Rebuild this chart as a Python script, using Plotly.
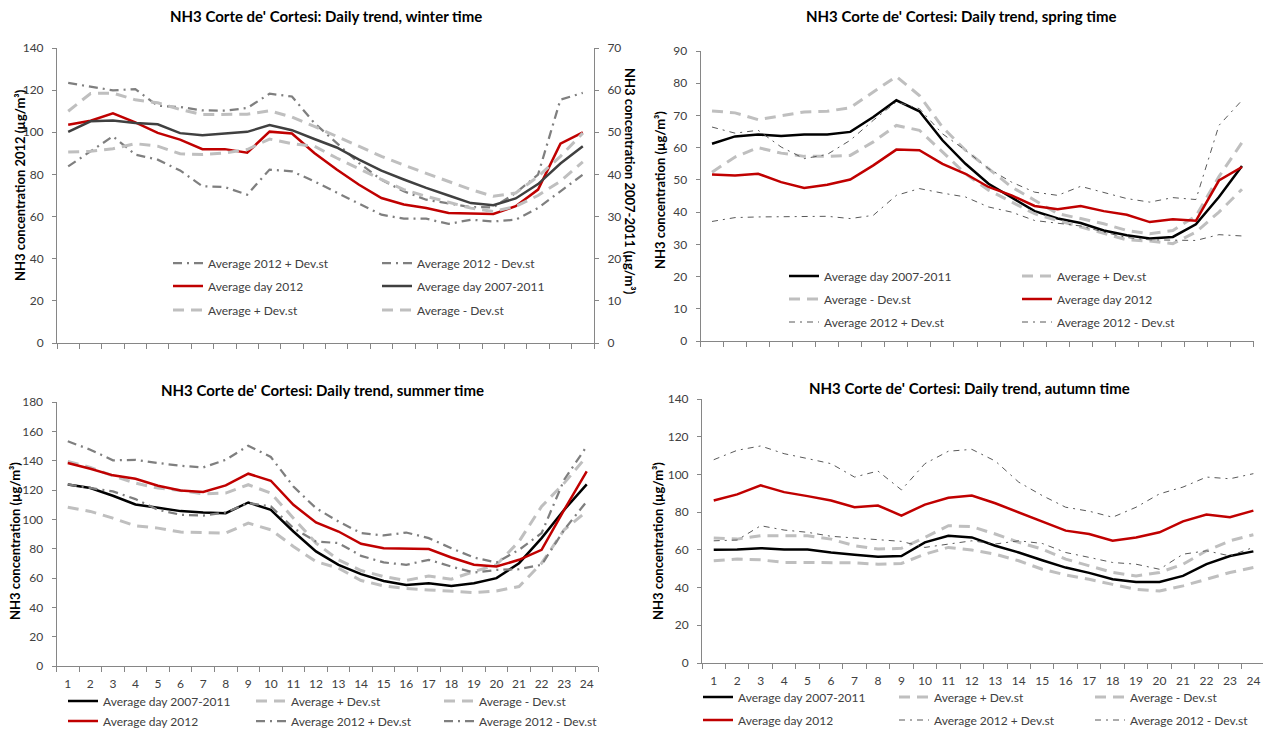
import plotly.graph_objects as go

PAGE_W, PAGE_H = 1263, 733

HOURS = list(range(1, 25))

SERIES_NAMES = {
    "avg_0711": "Average day 2007-2011",
    "plus_0711": "Average + Dev.st",
    "minus_0711": "Average - Dev.st",
    "avg_2012": "Average day 2012",
    "plus_2012": "Average 2012 + Dev.st",
    "minus_2012": "Average 2012 - Dev.st",
}

# ---- winter (2007-2011 series are read on the right-hand axis) ----
win_avg_0711 = [50.1, 52.6, 52.8, 52.2, 51.9, 49.8, 49.3, 49.7, 50.1, 51.7, 50.5, 48.4,
                46.4, 43.5, 40.9, 38.8, 36.8, 35.0, 33.2, 32.7, 34.3, 37.7, 42.6, 46.7]
win_plus_0711 = [55.0, 59.2, 59.3, 57.7, 57.0, 55.4, 54.2, 54.2, 54.3, 55.1, 53.6, 51.4,
                 49.0, 46.7, 44.3, 42.2, 40.3, 38.4, 36.4, 34.8, 35.6, 39.5, 44.3, 49.8]
win_minus_0711 = [45.3, 45.5, 46.1, 47.3, 46.7, 44.9, 44.7, 45.1, 45.9, 48.4, 47.3, 46.7,
                  43.9, 41.3, 38.8, 36.4, 34.8, 33.4, 32.0, 31.2, 32.4, 35.0, 38.4, 43.0]
win_avg_2012 = [103.6, 105.5, 109.0, 104.7, 99.7, 96.5, 92.0, 92.0, 90.3, 100.3, 99.4, 90.2,
                82.3, 75.1, 68.8, 65.7, 64.1, 61.7, 61.5, 61.2, 64.9, 72.8, 94.6, 100.0]
win_plus_2012 = [123.4, 121.5, 119.9, 120.5, 112.6, 112.0, 110.4, 110.3, 111.5, 118.3, 117.0, 104.4,
                 94.9, 85.4, 77.5, 72.0, 68.0, 66.1, 64.5, 64.4, 71.2, 79.9, 115.5, 118.7]
win_minus_2012 = [83.8, 91.0, 98.1, 89.4, 87.0, 81.9, 74.4, 74.0, 70.4, 82.3, 81.5, 76.7,
                  71.2, 66.1, 60.9, 59.0, 59.0, 56.5, 58.5, 57.7, 58.5, 64.1, 72.0, 79.9]

# ---- spring ----
spr_avg_0711 = [61.2, 63.5, 64.1, 63.6, 64.1, 64.1, 64.9, 69.5, 74.7, 71.3, 62.3, 55.0,
                48.8, 44.5, 40.3, 38.0, 36.6, 34.3, 32.8, 31.8, 32.3, 36.2, 44.7, 54.3]
spr_plus_0711 = [71.4, 70.8, 68.7, 69.8, 71.1, 71.3, 72.4, 77.3, 82.1, 76.2, 66.4, 59.2,
                 53.5, 47.8, 43.7, 39.5, 38.0, 36.4, 34.3, 33.3, 34.3, 38.8, 51.0, 61.6]
spr_minus_0711 = [52.4, 57.1, 60.0, 58.3, 57.3, 57.3, 57.6, 61.8, 66.9, 65.4, 58.7, 51.9,
                  46.8, 43.1, 39.5, 37.4, 35.4, 33.3, 31.4, 31.0, 30.2, 33.8, 40.0, 47.1]
spr_avg_2012 = [51.7, 51.4, 51.9, 49.3, 47.5, 48.5, 50.1, 54.5, 59.4, 59.2, 55.0, 51.9,
                47.8, 45.2, 41.9, 40.9, 41.9, 40.3, 39.2, 36.9, 37.8, 37.3, 49.8, 54.0]
spr_plus_2012 = [66.4, 64.5, 65.4, 60.2, 56.6, 57.9, 62.3, 68.5, 74.2, 72.1, 64.3, 59.2,
                 53.5, 49.3, 46.2, 45.2, 48.0, 46.2, 44.2, 43.1, 44.5, 43.9, 66.9, 74.7]
spr_minus_2012 = [37.1, 38.3, 38.5, 38.5, 38.7, 38.7, 38.0, 39.0, 45.2, 47.3, 45.9, 44.7,
                  41.6, 40.0, 37.4, 36.6, 35.7, 33.8, 32.1, 31.4, 31.2, 31.2, 33.0, 32.6]

# ---- summer ----
sum_avg_0711 = [123.8, 121.3, 116.1, 110.1, 107.9, 105.6, 104.7, 104.2, 111.5, 106.5, 91.7, 78.1,
                69.0, 62.6, 58.0, 55.3, 56.4, 54.6, 56.4, 59.9, 70.1, 87.2, 106.5, 123.8]
sum_plus_0711 = [139.5, 135.4, 129.7, 124.7, 121.3, 119.7, 117.4, 117.9, 123.6, 117.9, 100.8, 83.8,
                 72.4, 65.1, 61.0, 58.3, 61.4, 59.2, 64.4, 69.0, 84.9, 108.8, 124.7, 142.9]
sum_minus_0711 = [108.3, 105.4, 100.8, 95.6, 94.0, 91.3, 91.0, 90.6, 97.4, 92.9, 81.5, 71.2,
                  66.7, 58.3, 54.6, 52.8, 51.9, 51.2, 50.1, 51.2, 54.2, 70.1, 92.9, 105.4]
sum_avg_2012 = [138.4, 134.5, 130.0, 127.7, 122.9, 119.7, 118.6, 123.1, 131.1, 126.3, 109.9, 97.9,
                91.7, 83.3, 80.3, 79.9, 79.7, 74.0, 69.0, 67.8, 72.4, 79.2, 106.5, 132.7]
sum_plus_2012 = [153.2, 147.5, 140.2, 140.6, 138.4, 136.5, 135.4, 140.6, 150.2, 142.5, 122.4, 107.6,
                 98.5, 90.6, 89.0, 91.0, 87.2, 80.3, 74.0, 70.6, 79.2, 90.6, 127.0, 149.8]
sum_minus_2012 = [123.8, 121.3, 119.0, 113.8, 106.5, 103.1, 102.6, 104.7, 111.1, 108.8, 94.0, 84.9,
                  83.8, 75.1, 70.6, 69.0, 72.4, 67.8, 63.7, 65.5, 66.0, 69.0, 92.9, 112.2]

# ---- autumn ----
aut_avg_0711 = [60.0, 60.2, 60.9, 60.2, 60.2, 58.6, 57.4, 56.3, 56.7, 64.0, 67.5, 66.6,
                62.2, 58.6, 54.5, 50.6, 47.8, 44.4, 43.0, 43.0, 46.2, 52.4, 56.7, 59.2]
aut_plus_0711 = [66.3, 65.7, 67.5, 67.5, 67.5, 65.7, 62.2, 60.4, 60.8, 66.6, 72.8, 72.3,
                 68.4, 64.0, 60.4, 55.1, 51.5, 48.0, 46.2, 48.0, 52.4, 59.5, 64.8, 68.0]
aut_minus_0711 = [54.2, 55.1, 54.7, 53.3, 53.3, 53.1, 53.1, 52.4, 52.8, 57.7, 61.3, 59.9,
                  57.7, 54.2, 49.7, 46.7, 44.4, 41.7, 39.1, 38.2, 40.9, 44.4, 48.0, 50.6]
aut_avg_2012 = [86.2, 89.4, 94.2, 90.6, 88.5, 86.2, 82.6, 83.5, 78.2, 84.0, 87.6, 88.8,
                84.7, 79.9, 75.1, 70.2, 68.4, 64.8, 66.6, 69.3, 75.1, 78.7, 77.3, 80.8]
aut_plus_2012 = [107.8, 112.8, 115.1, 111.0, 108.4, 105.7, 98.6, 101.8, 91.8, 105.7, 112.3, 113.3,
                 107.1, 95.9, 88.8, 82.6, 80.5, 77.3, 82.6, 89.7, 93.3, 98.6, 97.7, 100.4]
aut_minus_2012 = [64.8, 65.2, 72.8, 70.5, 69.3, 67.2, 66.3, 65.2, 64.5, 61.3, 63.1, 64.8,
                  63.1, 64.8, 63.4, 58.6, 56.0, 53.3, 52.4, 49.7, 57.7, 59.5, 56.8, 61.3]


def fx(px):
    return px / PAGE_W


def fy(py):
    return 1 - py / PAGE_H


FONT = "Lato"
TXT = "#404040"
AXIS_GREY = "#868686"
RED = "#C00000"
LIGHT = "#BFBFBF"
DASH_GREY = "#7F7F7F"

STYLE_THICK = {
    "avg_2012": dict(color=RED, width=2.5),
    "plus_0711": dict(color=LIGHT, width=3, dash="11px,7px"),
    "minus_0711": dict(color=LIGHT, width=3, dash="11px,7px"),
    "plus_2012": dict(color=DASH_GREY, width=2.25, dash="9px,5px,2px,5px"),
    "minus_2012": dict(color=DASH_GREY, width=2.25, dash="9px,5px,2px,5px"),
}
STYLE_THIN = {
    "avg_2012": dict(color=RED, width=2.5),
    "plus_0711": dict(color=LIGHT, width=3, dash="11px,7px"),
    "minus_0711": dict(color=LIGHT, width=3, dash="11px,7px"),
    "plus_2012": dict(color="#595959", width=1, dash="6px,5px,2px,5px"),
    "minus_2012": dict(color="#595959", width=1, dash="6px,5px,2px,5px"),
}

fig = go.Figure()


def add(key, values, xa, ya, legend, style, main_color, legendwidth=None):
    line = dict(style.get(key, dict(color=main_color, width=2.5)))
    tr = go.Scatter(x=HOURS, y=values, mode="lines", name=SERIES_NAMES[key],
                    line=line, xaxis=xa, yaxis=ya, legend=legend, hoverinfo="x+y+name")
    if legendwidth is not None:
        tr.legendwidth = legendwidth
    fig.add_trace(tr)


# winter: dark grey long-term mean on the right axis, 2012 on the left axis
win = dict(avg_0711=win_avg_0711, plus_0711=win_plus_0711, minus_0711=win_minus_0711,
           avg_2012=win_avg_2012, plus_2012=win_plus_2012, minus_2012=win_minus_2012)
win_rows = [("legend", ["plus_2012", "minus_2012"]),
            ("legend2", ["avg_2012", "avg_0711"]),
            ("legend3", ["plus_0711", "minus_0711"])]
for leg, keys in win_rows:
    for k in keys:
        ya = "y5" if k.endswith("0711") else "y"
        add(k, win[k], "x", ya, leg, STYLE_THICK, "#404040")

spr = dict(avg_0711=spr_avg_0711, plus_0711=spr_plus_0711, minus_0711=spr_minus_0711,
           avg_2012=spr_avg_2012, plus_2012=spr_plus_2012, minus_2012=spr_minus_2012)
spr_rows = [("legend4", ["avg_0711", "plus_0711"]),
            ("legend5", ["minus_0711", "avg_2012"]),
            ("legend6", ["plus_2012", "minus_2012"])]
for leg, keys in spr_rows:
    for k in keys:
        add(k, spr[k], "x2", "y2", leg, STYLE_THIN, "#000000")

summ = dict(avg_0711=sum_avg_0711, plus_0711=sum_plus_0711, minus_0711=sum_minus_0711,
            avg_2012=sum_avg_2012, plus_2012=sum_plus_2012, minus_2012=sum_minus_2012)
sum_rows = [("legend7", ["avg_0711", "plus_0711", "minus_0711"]),
            ("legend8", ["avg_2012", "plus_2012", "minus_2012"])]
for leg, keys in sum_rows:
    for k in keys:
        add(k, summ[k], "x3", "y3", leg, STYLE_THICK, "#000000")

aut = dict(avg_0711=aut_avg_0711, plus_0711=aut_plus_0711, minus_0711=aut_minus_0711,
           avg_2012=aut_avg_2012, plus_2012=aut_plus_2012, minus_2012=aut_minus_2012)
aut_rows = [("legend9", ["avg_0711", "plus_0711", "minus_0711"]),
            ("legend10", ["avg_2012", "plus_2012", "minus_2012"])]
for leg, keys in aut_rows:
    for i, k in enumerate(keys):
        add(k, aut[k], "x4", "y4", leg, STYLE_THIN, "#000000",
            legendwidth=118 if i == 2 else None)


def xaxis(domain, anchor, labels, rng=(0.5, 24.5)):
    return dict(domain=domain, anchor=anchor, range=list(rng), tickmode="array",
                tickvals=HOURS, ticktext=[str(h) for h in HOURS], ticks="",
                ticklabelstandoff=7,
                showticklabels=labels, showline=True, linecolor=AXIS_GREY, linewidth=1,
                showgrid=False, zeroline=False,
                tickfont=dict(family=FONT, size=12, color=TXT),
                minor=dict(tickmode="linear", tick0=0.5, dtick=1, ticks="outside",
                           ticklen=5, tickcolor=AXIS_GREY, tickwidth=1, showgrid=False))


def yaxis(domain, anchor, rng, dtick, **extra):
    d = dict(domain=domain, anchor=anchor, range=list(rng), dtick=dtick, tick0=0,
             ticks="outside", ticklen=4, tickcolor=AXIS_GREY, showline=True,
             ticklabelstandoff=6,
             linecolor=AXIS_GREY, linewidth=1, showgrid=False, zeroline=False,
             tickfont=dict(family=FONT, size=12, color=TXT))
    d.update(extra)
    return d


def legend_row(x_px, y_px, entry_w):
    return dict(orientation="h", x=fx(x_px), y=fy(y_px), xanchor="left", yanchor="middle",
                entrywidth=entry_w, entrywidthmode="pixels", bgcolor="rgba(0,0,0,0)",
                font=dict(family=FONT, size=12, color=TXT), itemwidth=30,
                traceorder="normal")


layout = dict(
    width=PAGE_W, height=PAGE_H,
    margin=dict(l=0, r=0, t=0, b=0, pad=0, autoexpand=False),
    paper_bgcolor="white", plot_bgcolor="white",
    font=dict(family=FONT, color=TXT),
    xaxis=xaxis([fx(57), fx(594)], "y", False),
    yaxis=yaxis([fy(343), fy(48)], "x", (0, 140), 20),
    yaxis5=yaxis([fy(343), fy(48)], "x", (0, 70), 10, overlaying="y", side="right"),
    xaxis2=xaxis([fx(700.5), fx(1253.5)], "y2", False),
    yaxis2=yaxis([fy(341), fy(51)], "x2", (0, 90), 10),
    xaxis3=xaxis([fx(56.5), fx(598)], "y3", True),
    yaxis3=yaxis([fy(666), fy(402)], "x3", (0, 180), 20),
    xaxis4=xaxis([fx(702), 1.0], "y4", True, rng=(0.5, 24.41)),
    yaxis4=yaxis([fy(663), fy(399)], "x4", (0, 140), 20),
    legend=legend_row(168, 263, 164),
    legend2=legend_row(168, 286, 164),
    legend3=legend_row(168, 310, 164),
    legend4=legend_row(784, 276, 188),
    legend5=legend_row(784, 299, 188),
    legend6=legend_row(784, 322, 188),
    legend7=legend_row(63, 701, 143),
    legend8=legend_row(63, 721, 143),
    legend9=legend_row(698, 697, 151),
    legend10=legend_row(698, 720, 151),
    showlegend=True,
)
fig.update_layout(**layout)

titles = [
    ("NH3 Corte de' Cortesi: Daily trend, winter time", 326, 16),
    ("NH3 Corte de' Cortesi: Daily trend, spring time", 961, 16),
    ("NH3 Corte de' Cortesi: Daily trend, summer time", 322, 390),
    ("NH3 Corte de' Cortesi: Daily trend, autumn time", 969, 388),
]
for text, x, y in titles:
    fig.add_annotation(text=f"<b>{text}</b>", x=fx(x), y=fy(y), xref="paper", yref="paper",
                       showarrow=False, xanchor="center", yanchor="middle",
                       font=dict(family=FONT, size=15, color="#000000"))

axis_titles = [
    ("NH3 concentration 2012 (µg/m³)", 20, 185, -90),
    ("NH3 concentration 2007-2011 (µg/m³)", 630, 181, 90),
    ("NH3 concentration (µg/m³)", 660, 190, -90),
    ("NH3 concentration (µg/m³)", 15, 541, -90),
    ("NH3 concentration (µg/m³)", 658, 541, -90),
]
for text, x, y, ang in axis_titles:
    fig.add_annotation(text=f"<b>{text}</b>", x=fx(x), y=fy(y), xref="paper", yref="paper",
                       showarrow=False, xanchor="center", yanchor="middle", textangle=ang,
                       font=dict(family=FONT, size=13, color="#000000"))

fig.write_html("out.html")
